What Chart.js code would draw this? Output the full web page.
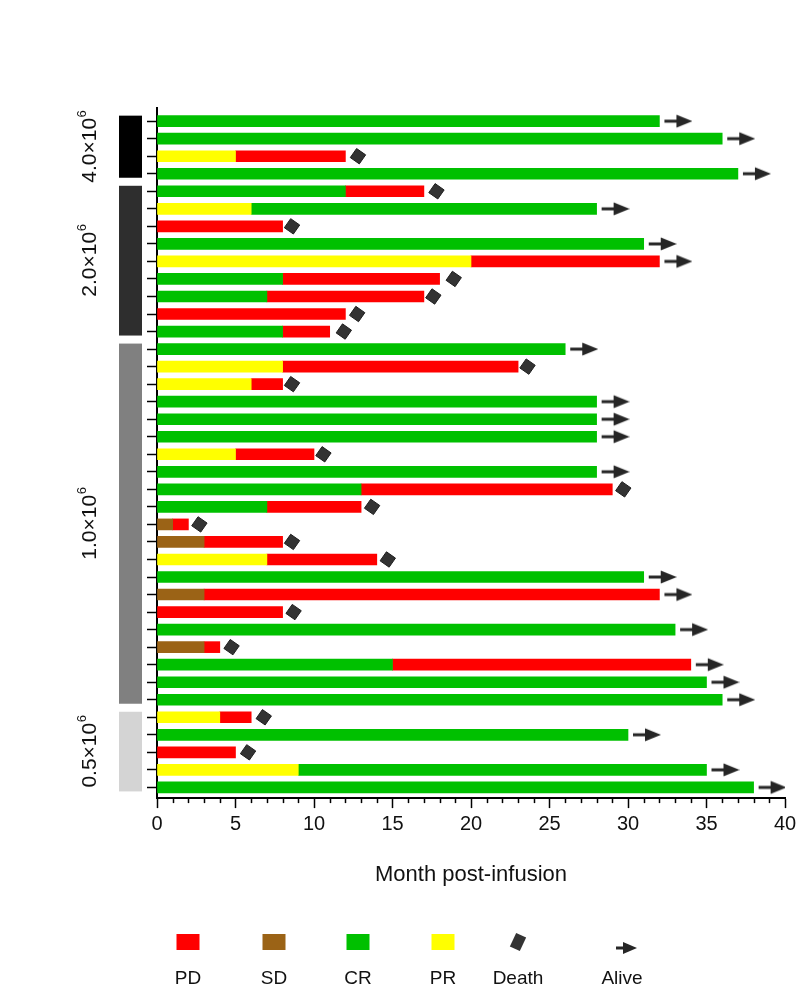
<!DOCTYPE html>
<html>
<head>
<meta charset="utf-8">
<title>Swimmer plot</title>
<script src="https://cdn.jsdelivr.net/npm/chart.js@4.4.1/dist/chart.umd.min.js"></script>
<style>
  html, body { margin: 0; padding: 0; background: #fff; }
  #wrap { width: 805px; height: 1004px; }
</style>
</head>
<body>
<div id="wrap"><canvas id="swimmer" width="805" height="1004"></canvas></div>
<script>
const _ = null;

// one entry per patient, top row first. months spent in each response
//                 1   2   3   4   5   6   7   8   9  10
const sdMonths = [ _,  _,  _,  _,  _,  _,  _,  _,  _,  _,
                   _,  _,  _,  _,  _,  _,  _,  _,  _,  _,
                   _,  _,  _,  1,  3,  _,  _,  3,  _,  _,
                   3,  _,  _,  _,  _,  _,  _,  _,  _];
const prMonths = [ _,  _,  5,  _,  _,  6,  _,  _, 20,  _,
                   _,  _,  _,  _,  8,  6,  _,  _,  _,  5,
                   _,  _,  _,  _,  _,  7,  _,  _,  _,  _,
                   _,  _,  _,  _,  4,  _,  _,  9,  _];
const crMonths = [32, 36,  _, 37, 12, 22,  _, 31,  _,  8,
                   7,  _,  8, 26,  _,  _, 28, 28, 28,  _,
                  28, 13,  7,  _,  _,  _, 31,  _,  _, 33,
                   _, 15, 35, 36,  _, 30,  _, 26, 38];
const pdMonths = [ _,  _,  7,  _,  5,  _,  8,  _, 12, 10,
                  10, 12,  3,  _, 15,  2,  _,  _,  _,  5,
                   _, 16,  6,  1,  5,  7,  _, 29,  8,  _,
                   1, 19,  _,  _,  2,  _,  5,  _,  _];
// month of death (null = still alive at last follow-up)
const deathMonth = [ _,  _, 12.8,  _, 17.8,  _, 8.6,  _,  _, 18.9,
                  17.6, 12.75, 11.9, _, 23.6, 8.6, _,  _,  _, 10.6,
                     _, 29.7, 13.7, 2.7, 8.6, 14.7, _, _, 8.7, _,
                  4.75,  _,  _,  _, 6.8,  _, 5.8,  _,  _];

// dose cohorts, top to bottom
const doseGroups = ['4.0', '2.0', '1.0', '0.5'];
const groupSizes = [4, 9, 21, 5];
const groupShades = ['#000000', '#2e2e2e', '#808080', '#d4d4d4'];

const xTicks = [0, 5, 10, 15, 20, 25, 30, 35, 40];
const legendOrder = ['PD', 'SD', 'CR', 'PR', 'Death', 'Alive'];

const FONT = '"Liberation Sans", Arial, sans-serif';
Chart.defaults.font.family = FONT;
Chart.defaults.color = '#111';

const toPoints = arr => arr.map((v, i) => ({ x: v, y: i })).filter(p => p.x !== null);
const totals = sdMonths.map((_v, i) =>
  [sdMonths, prMonths, crMonths, pdMonths].reduce((s, a) => s + (a[i] || 0), 0));
const aliveAt = totals.map((t, i) => deathMonth[i] === null ? t : null);

// arrow glyph: the point sits at the end of the bar, the arrow is drawn to its right
function arrowImage() {
  const c = document.createElement('canvas');
  c.width = 66; c.height = 16;
  const g = c.getContext('2d');
  g.fillStyle = '#262626';
  g.fillRect(38, 6.5, 14, 3);
  g.beginPath();
  g.moveTo(50, 1.5); g.lineTo(66, 8); g.lineTo(50, 14.5);
  g.closePath(); g.fill();
  return c;
}

const minorTicks = {
  id: 'minorTicks',
  afterDraw(chart) {
    const { ctx, chartArea, scales: { x } } = chart;
    ctx.save();
    ctx.strokeStyle = '#000';
    ctx.lineWidth = 1.5;
    for (let v = x.min; v <= x.max; v++) {
      if (v % 5 === 0) continue;
      const px = Math.round(x.getPixelForValue(v)) + 0.5;
      ctx.beginPath();
      ctx.moveTo(px, chartArea.bottom);
      ctx.lineTo(px, chartArea.bottom + 5);
      ctx.stroke();
    }
    ctx.restore();
  }
};

const doseBands = {
  id: 'doseBands',
  afterDraw(chart) {
    const { ctx, scales: { y } } = chart;
    let first = 0;
    ctx.save();
    doseGroups.forEach((dose, g) => {
      const last = first + groupSizes[g] - 1;
      const top = y.getPixelForValue(first) - 5.5;
      const bottom = y.getPixelForValue(last) + 4;
      ctx.fillStyle = groupShades[g];
      ctx.fillRect(119, top, 23, bottom - top);

      // rotated label with superscript exponent
      const mid = (top + bottom) / 2;
      ctx.save();
      ctx.translate(90, mid);
      ctx.rotate(-Math.PI / 2);
      ctx.fillStyle = '#111';
      ctx.textBaseline = 'middle';
      ctx.textAlign = 'left';
      const main = dose + '\u00d710';
      ctx.font = '21px ' + FONT;
      const wMain = ctx.measureText(main).width;
      ctx.font = '13px ' + FONT;
      const wSup = ctx.measureText('6').width;
      const x0 = -(wMain + wSup) / 2;
      ctx.font = '21px ' + FONT;
      ctx.fillText(main, x0, 0);
      ctx.font = '13px ' + FONT;
      ctx.fillText('6', x0 + wMain + 0.5, -8);
      ctx.restore();
      first = last + 1;
    });
    ctx.restore();
  }
};

const bottomLegend = {
  id: 'bottomLegend',
  afterDraw(chart) {
    const { ctx } = chart;
    const xs = [188, 274, 358, 443, 518, 622];
    const boxY = 942, textY = 979;
    ctx.save();
    legendOrder.forEach((name, k) => {
      const cx = xs[k];
      const ds = chart.data.datasets.find(d => d.label === name);
      if (name === 'Death') {
        ctx.save();
        ctx.translate(cx, boxY);
        ctx.rotate(25 * Math.PI / 180);
        ctx.fillStyle = ds.backgroundColor;
        ctx.fillRect(-5.5, -7.5, 11, 15);
        ctx.restore();
      } else if (name === 'Alive') {
        ctx.fillStyle = '#262626';
        ctx.fillRect(cx - 6, boxY + 4.5, 10, 3);
        ctx.beginPath();
        ctx.moveTo(cx + 1, boxY);
        ctx.lineTo(cx + 15, boxY + 6);
        ctx.lineTo(cx + 1, boxY + 12);
        ctx.closePath();
        ctx.fill();
      } else {
        ctx.fillStyle = ds.backgroundColor;
        ctx.fillRect(cx - 11.5, boxY - 8, 23, 16);
      }
      ctx.fillStyle = '#111';
      ctx.font = '19px ' + FONT;
      ctx.textAlign = 'center';
      ctx.textBaseline = 'middle';
      ctx.fillText(name, cx, textY);
    });
    ctx.restore();
  }
};

const barStyle = { borderWidth: 0, barThickness: 11 };

new Chart(document.getElementById('swimmer'), {
  type: 'bar',
  data: {
    datasets: [
      { type: 'scatter', label: 'Death', stack: 'death', data: toPoints(deathMonth),
        pointStyle: 'rect', rotation: 35, radius: 7.8, backgroundColor: '#333333',
        borderColor: '#1e1e1e', borderWidth: 1 },
      { type: 'scatter', label: 'Alive', stack: 'alive', data: toPoints(aliveAt),
        pointStyle: arrowImage(), radius: 10, backgroundColor: '#262626' },
      { label: 'SD', data: toPoints(sdMonths), backgroundColor: '#9b6316', ...barStyle },
      { label: 'PR', data: toPoints(prMonths), backgroundColor: '#ffff00', ...barStyle },
      { label: 'CR', data: toPoints(crMonths), backgroundColor: '#00c000', ...barStyle },
      { label: 'PD', data: toPoints(pdMonths), backgroundColor: '#ff0000', ...barStyle }
    ]
  },
  options: {
    indexAxis: 'y',
    responsive: false,
    animation: false,
    events: [],
    layout: { padding: { left: 147, right: 20, top: 108, bottom: 114 } },
    scales: {
      x: {
        type: 'linear',
        stacked: true,
        min: 0,
        max: 40,
        offset: false,
        afterBuildTicks: s => { s.ticks = xTicks.map(v => ({ value: v })); },
        grid: { drawOnChartArea: false, offset: false, color: '#000', tickColor: '#000', tickLength: 10, tickWidth: 1.5 },
        border: { color: '#000', width: 2 },
        ticks: { font: { size: 20 }, color: '#111', padding: 4, maxRotation: 0 },
        title: { display: true, text: 'Month post-infusion', font: { size: 22 }, color: '#111',
                 padding: { top: 21.5, bottom: 2 } }
      },
      y: {
        type: 'linear',
        stacked: true,
        reverse: true,
        offset: false,
        min: -0.75,
        max: 38.61,
        afterBuildTicks: s => { s.ticks = totals.map((_v, i) => ({ value: i })); },
        grid: { drawOnChartArea: false, offset: false, color: '#000', tickColor: '#000', tickLength: 10, tickWidth: 1.5 },
        border: { color: '#000', width: 2 },
        ticks: { display: false }
      }
    },
    plugins: {
      legend: { display: false },
      tooltip: { enabled: false }
    }
  },
  plugins: [minorTicks, doseBands, bottomLegend]
});
</script>
</body>
</html>
